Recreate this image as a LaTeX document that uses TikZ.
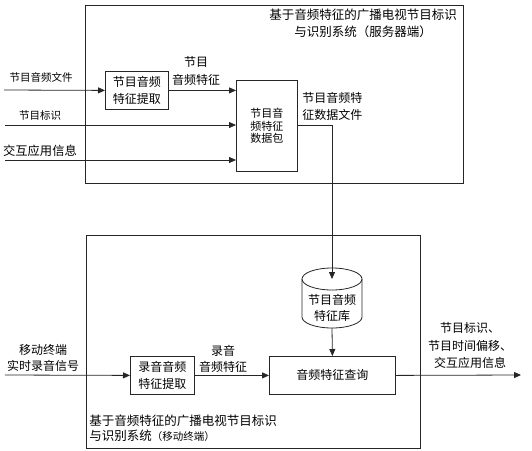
\documentclass[tikz,border=0pt]{standalone}
\usepackage{fontspec}
\setmainfont{Noto Sans CJK SC}
\usetikzlibrary{arrows.meta}
\begin{document}
\begin{tikzpicture}[x=1pt,y=-1pt,line width=0.8pt,
  ln/.style={draw=black!85},
  box/.style={draw=black!85,rectangle,inner sep=0pt,anchor=north west,align=center},
  lbl/.style={inner sep=0pt,align=center,font=\fontsize{11.5}{17}\selectfont},
  arr/.style={ln,-{Triangle[length=7pt,width=6pt]}}]
\useasboundingbox (0,0) rectangle (532,450);
% outer boxes
\node[box,minimum width=378pt,minimum height=178pt] (server) at (85,5) {};
\node[box,minimum width=334pt,minimum height=213pt] (mobile) at (86,235) {};
% titles
\node[lbl,font=\fontsize{12.5}{17}\selectfont] (t1) at (363,23.5) {基于音频特征的广播电视节目标识\\与识别系统（服务器端）};
\node[lbl,anchor=north west,align=left,font=\fontsize{12.5}{15.5}\selectfont] (t2) at (89,414) {基于音频特征的广播电视节目标识\\与识别系统{\fontsize{10.5}{15}\selectfont（移动终端）}};
% upper boxes
\node[box,minimum width=63pt,minimum height=38pt,font=\fontsize{12}{17}\selectfont] (ext1) at (105,71) {节目音频\\特征提取};
\node[box,minimum width=61pt,minimum height=91pt,font=\fontsize{11}{12.5}\selectfont] (pack) at (236,80) {节目音\\频特征\\数据包};
% upper inputs
\coordinate (in1) at (4,90);
\coordinate (in2) at (5,125);
\coordinate (in3) at (5,160);
\draw[arr] (in1) -- (ext1.west);
\draw[arr] (ext1.east) -- (pack.west |- ext1.east);
\draw[arr] (in2) -- (pack.west |- in2);
\draw[arr] (in3) -- (pack.west |- in3);
\node[lbl,font=\fontsize{10.5}{15}\selectfont] (l1) at (41,77) {节目音频文件};
\node[lbl,font=\fontsize{10.5}{15}\selectfont] (l2) at (40,116) {节目标识};
\node[lbl,font=\fontsize{12.3}{15}\selectfont] (l3) at (40,151) {交互应用信息};
\node[lbl,font=\fontsize{12}{18}\selectfont] (l4) at (196,71) {节目\\音频特征};
\node[lbl,anchor=west,align=left,font=\fontsize{12}{17}\selectfont] (l5) at (302,106.5) {节目音频特\\征数据文件};
% cylinder
\draw[ln] (332,279) ellipse [x radius=30pt,y radius=11pt];
\draw[ln] (302,279) -- (302,317) arc[start angle=180,end angle=360,x radius=30pt,y radius=11pt] -- (362,279);
\node[lbl,font=\fontsize{12}{16}\selectfont] (db) at (332,307.5) {节目音频\\特征库};
\coordinate (cyltop) at (332,279);
\coordinate (cylbot) at (332,328);
\coordinate (bend) at (332,125);
\draw[arr] (pack.east |- bend) -- (bend) -- (cyltop);
% lower boxes
\node[box,minimum width=64pt,minimum height=38pt,font=\fontsize{12}{17}\selectfont] (ext2) at (130,356) {录音音频\\特征提取};
\node[box,minimum width=126pt,minimum height=38pt,font=\fontsize{12}{17}\selectfont] (query) at (269,356) {音频特征查询};
\draw[arr] (cylbot) -- (query.north);
\coordinate (in4) at (5,375);
\coordinate (out) at (521,375);
\draw[arr] (in4) -- (ext2.west);
\draw[arr] (ext2.east) -- (query.west);
\draw[arr] (query.east) -- (out);
\node[lbl,font=\fontsize{12}{16}\selectfont] (l6) at (43,358) {移动终端\\实时录音信号};
\node[lbl,font=\fontsize{12}{16}\selectfont] (l7) at (223,359) {录音\\音频特征};
\node[lbl,font=\fontsize{12}{17.5}\selectfont] (l8) at (470,345.5) {节目标识、\\节目时间偏移、\\交互应用信息};
\end{tikzpicture}
\end{document}
